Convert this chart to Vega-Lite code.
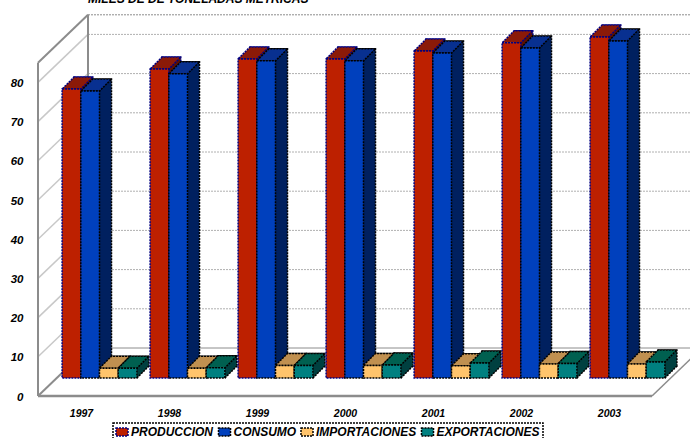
{"$schema":"https://vega.github.io/schema/vega-lite/v6.json","width":690,"height":438,"autosize":"none","padding":0,"background":"white",
"title":{"text":"MILES DE DE TONELADAS METRICAS","anchor":"start","frame":"group","dx":88,"dy":6,"offset":0,"font":"Liberation Sans","fontSize":12,"fontWeight":"bold","fontStyle":"italic","color":"#000000"},
"config":{"view":{"stroke":null},"font":"Liberation Sans","legend":{"strokeDash":[2,1],"strokeWidth":1.5,"strokeColor":"#000000"}},
"datasets":{"bars":[
{"year":"1997","series":"PRODUCCION","value":73.7},{"year":"1997","series":"CONSUMO","value":73.2},{"year":"1997","series":"IMPORTACIONES","value":2.5},{"year":"1997","series":"EXPORTACIONES","value":2.5},
{"year":"1998","series":"PRODUCCION","value":78.8},{"year":"1998","series":"CONSUMO","value":77.6},{"year":"1998","series":"IMPORTACIONES","value":2.5},{"year":"1998","series":"EXPORTACIONES","value":2.6},
{"year":"1999","series":"PRODUCCION","value":81.4},{"year":"1999","series":"CONSUMO","value":80.9},{"year":"1999","series":"IMPORTACIONES","value":3.2},{"year":"1999","series":"EXPORTACIONES","value":3.2},
{"year":"2000","series":"PRODUCCION","value":81.4},{"year":"2000","series":"CONSUMO","value":80.9},{"year":"2000","series":"IMPORTACIONES","value":3.2},{"year":"2000","series":"EXPORTACIONES","value":3.3},
{"year":"2001","series":"PRODUCCION","value":83.4},{"year":"2001","series":"CONSUMO","value":82.9},{"year":"2001","series":"IMPORTACIONES","value":3.1},{"year":"2001","series":"EXPORTACIONES","value":3.8},
{"year":"2002","series":"PRODUCCION","value":85.5},{"year":"2002","series":"CONSUMO","value":84.2},{"year":"2002","series":"IMPORTACIONES","value":3.6},{"year":"2002","series":"EXPORTACIONES","value":3.7},
{"year":"2003","series":"PRODUCCION","value":87.0},{"year":"2003","series":"CONSUMO","value":86.0},{"year":"2003","series":"IMPORTACIONES","value":3.6},{"year":"2003","series":"EXPORTACIONES","value":4.1}],
"grid":[{"tick":0},{"tick":10},{"tick":20},{"tick":30},{"tick":40},{"tick":50},{"tick":60},{"tick":70},{"tick":80}],
"frame":[{"tick":0},{"tick":85}]},
"resolve":{"scale":{"x":"independent","y":"independent","fill":"independent","stroke":"independent"},"axis":{"x":"independent","y":"independent"}},
"layer":[
{"data":{"name":"grid"},"transform":[{"filter":"datum.tick>0"}],"mark":{"type":"rule","color":"#b0b0b0","strokeWidth":1,"strokeDash":[2,1]},
 "encoding":{"x":{"datum":0,"type":"quantitative","scale":{"domain":[0,1],"range":[88,702]},"axis":null},"x2":{"datum":1},"y":{"field":"tick","type":"quantitative","scale":{"domain":[0,100],"range":[348,-44]},"axis":null}}},
{"data":{"name":"frame"},"transform":[{"filter":"datum.tick==85"}],"mark":{"type":"rule","color":"#8c8c8c","strokeWidth":1,"strokeDash":[2,1]},
 "encoding":{"x":{"datum":0,"type":"quantitative","scale":{"domain":[0,1],"range":[88,702]},"axis":null},"x2":{"datum":1},"y":{"field":"tick","type":"quantitative","scale":{"domain":[0,100],"range":[348,-44]},"axis":null}}},
{"data":{"name":"frame"},"transform":[{"filter":"datum.tick==0"}],"mark":{"type":"rule","color":"#8c8c8c","strokeWidth":1},
 "encoding":{"x":{"datum":0,"type":"quantitative","scale":{"domain":[0,1],"range":[88,702]},"axis":null},"x2":{"datum":1},"y":{"field":"tick","type":"quantitative","scale":{"domain":[0,100],"range":[348,-44]},"axis":null}}},
{"data":{"name":"grid"},"transform":[{"filter":"datum.tick>0"}],"mark":{"type":"point","filled":false,"stroke":"#c8c8c8","strokeWidth":1.5,"size":4,"opacity":1,"shape":"M0,0 L50,-48"},
 "encoding":{"x":{"datum":0,"type":"quantitative","scale":{"domain":[0,1],"range":[38,652]},"axis":null},"y":{"field":"tick","type":"quantitative","scale":{"domain":[0,100],"range":[396,4]},"axis":{"title":null,"orient":"left","offset":-23,"values":[0,10,20,30,40,50,60,70,80],"domain":false,"ticks":false,"grid":false,"labelPadding":0,"labelOffset":1,"labelFont":"Liberation Sans","labelFontSize":11.5,"labelFontWeight":"bold","labelFontStyle":"italic","labelColor":"#000000"}}}},
{"data":{"name":"frame"},"mark":{"type":"point","filled":false,"stroke":"#8c8c8c","strokeWidth":2,"size":4,"opacity":1,"shape":"M0,0 L50,-48"},
 "encoding":{"x":{"datum":0,"type":"quantitative","scale":{"domain":[0,1],"range":[38,652]},"axis":null},"y":{"field":"tick","type":"quantitative","scale":{"domain":[0,100],"range":[396,4]},"axis":null}}},
{"data":{"name":"frame"},"transform":[{"filter":"datum.tick==0"}],"mark":{"type":"point","filled":false,"stroke":"#8c8c8c","strokeWidth":1.5,"size":4,"opacity":1,"shape":"M0,0 L50,-48"},
 "encoding":{"x":{"datum":1,"type":"quantitative","scale":{"domain":[0,1],"range":[38,652]},"axis":null},"y":{"field":"tick","type":"quantitative","scale":{"domain":[0,100],"range":[396,4]},"axis":null}}},
{"data":{"values":[{"a":0,"b":85}]},"mark":{"type":"rule","color":"#8c8c8c","strokeWidth":2},
 "encoding":{"x":{"datum":0,"type":"quantitative","scale":{"domain":[0,1],"range":[38,652]},"axis":null},"y":{"field":"a","type":"quantitative","scale":{"domain":[0,100],"range":[396,4]},"axis":null},"y2":{"field":"b"}}},
{"data":{"values":[{"a":0,"b":85}]},"mark":{"type":"rule","color":"#8c8c8c","strokeWidth":2},
 "encoding":{"x":{"datum":0,"type":"quantitative","scale":{"domain":[0,1],"range":[88,702]},"axis":null},"y":{"field":"a","type":"quantitative","scale":{"domain":[0,100],"range":[348,-44]},"axis":null},"y2":{"field":"b"}}},
{"data":{"values":[{"a":0}]},"mark":{"type":"rule","color":"#8c8c8c","strokeWidth":2.5},
 "encoding":{"x":{"datum":0,"type":"quantitative","scale":{"domain":[0,1],"range":[38,652]},"axis":null},"x2":{"datum":1},"y":{"field":"a","type":"quantitative","scale":{"domain":[0,100],"range":[396,4]},"axis":null}}},

{"data":{"name":"bars"},"mark":{"type":"bar","strokeWidth":1.5,"strokeDash":[2,1]},
 "encoding":{"x":{"field":"year","type":"nominal","scale":{"type":"band","range":[67.5,683.5],"paddingInner":0.15,"paddingOuter":0.075},"axis":null},
  "xOffset":{"field":"series","type":"nominal","scale":{"domain":["PRODUCCION","CONSUMO","IMPORTACIONES","EXPORTACIONES"]}},
  "y":{"field":"value","type":"quantitative","stack":null,"scale":{"domain":[0,100],"range":[366,-26]},"axis":null},
  "fill":{"field":"series","type":"nominal","legend":null,"scale":{"domain":["PRODUCCION","CONSUMO","IMPORTACIONES","EXPORTACIONES"],"range":["#5e1000","#00205f","#806030","#004040"]}},
  "stroke":{"field":"series","type":"nominal","legend":null,"scale":{"domain":["PRODUCCION","CONSUMO","IMPORTACIONES","EXPORTACIONES"],"range":["#000080","#000000","#000000","#000000"]}}}},
{"data":{"name":"bars"},"mark":{"type":"point","filled":true,"size":4,"opacity":1,"shape":"M9.4,-18 L21.4,-30 L21.4,-31 L9.4,-31 Z","strokeWidth":0},
 "encoding":{"x":{"field":"year","type":"nominal","scale":{"type":"band","range":[55.5,671.5],"paddingInner":0.15,"paddingOuter":0.075},"axis":null},
  "xOffset":{"field":"series","type":"nominal","scale":{"domain":["PRODUCCION","CONSUMO","IMPORTACIONES","EXPORTACIONES"]}},
  "y":{"datum":0,"type":"quantitative","scale":{"domain":[0,100],"range":[396,4]},"axis":null},
  "fill":{"field":"series","type":"nominal","legend":null,"scale":{"domain":["PRODUCCION","CONSUMO","IMPORTACIONES","EXPORTACIONES"],"range":["#5e1000","#00205f","#806030","#004040"]}}}},
{"data":{"name":"bars"},"mark":{"type":"point","filled":false,"size":4,"opacity":1,"shape":"M9.4,-18 L21.4,-30","stroke":"#000000","strokeWidth":1.5,"strokeDash":[2,1]},
 "encoding":{"x":{"field":"year","type":"nominal","scale":{"type":"band","range":[55.5,671.5],"paddingInner":0.15,"paddingOuter":0.075},"axis":null},
  "xOffset":{"field":"series","type":"nominal","scale":{"domain":["PRODUCCION","CONSUMO","IMPORTACIONES","EXPORTACIONES"]}},
  "y":{"datum":0,"type":"quantitative","scale":{"domain":[0,100],"range":[396,4]},"axis":null}}},
{"data":{"name":"bars"},"mark":{"type":"point","filled":true,"size":4,"opacity":1,"shape":"M-9.4,-18 L9.4,-18 L21.4,-30 L2.6,-30 Z","strokeWidth":1.5,"strokeDash":[2,1]},
 "encoding":{"x":{"field":"year","type":"nominal","scale":{"type":"band","range":[55.5,671.5],"paddingInner":0.15,"paddingOuter":0.075},"axis":null},
  "xOffset":{"field":"series","type":"nominal","scale":{"domain":["PRODUCCION","CONSUMO","IMPORTACIONES","EXPORTACIONES"]}},
  "y":{"field":"value","type":"quantitative","scale":{"domain":[0,100],"range":[396,4]},"axis":null},
  "fill":{"field":"series","type":"nominal","legend":null,"scale":{"domain":["PRODUCCION","CONSUMO","IMPORTACIONES","EXPORTACIONES"],"range":["#8b1a08","#083090","#c09050","#006050"]}},
  "stroke":{"field":"series","type":"nominal","legend":null,"scale":{"domain":["PRODUCCION","CONSUMO","IMPORTACIONES","EXPORTACIONES"],"range":["#000080","#000000","#000000","#000000"]}}}},
{"data":{"name":"bars"},"mark":{"type":"bar","strokeWidth":1.5,"strokeDash":[2,1]},
 "encoding":{"x":{"field":"year","type":"nominal","scale":{"type":"band","range":[55.5,671.5],"paddingInner":0.15,"paddingOuter":0.075},"axis":{"title":null,"orient":"bottom","offset":-30,"domain":false,"ticks":false,"labelAngle":0,"labelOffset":-18,"labelPadding":0,"labelFont":"Liberation Sans","labelFontSize":10.5,"labelFontWeight":"bold","labelFontStyle":"italic","labelColor":"#000000"}},
  "xOffset":{"field":"series","type":"nominal","scale":{"domain":["PRODUCCION","CONSUMO","IMPORTACIONES","EXPORTACIONES"]}},
  "y":{"field":"value","type":"quantitative","stack":null,"scale":{"domain":[0,100],"range":[378,-14]},"axis":null},
  "fill":{"field":"series","type":"nominal","scale":{"domain":["PRODUCCION","CONSUMO","IMPORTACIONES","EXPORTACIONES"],"range":["#bd2000","#0040bd","#ffc46c","#008080"]},
   "legend":{"title":null,"orient":"none","legendX":113,"legendY":423,"direction":"horizontal","columns":4,"columnPadding":1.5,"padding":3,"labelOffset":3,"symbolType":"M-1.2,-0.8H1.2V0.8H-1.2Z","symbolSize":100,"symbolStrokeColor":"#000080","symbolStrokeWidth":1.5,"symbolDash":[2,1],"symbolOpacity":1,"labelFont":"Liberation Sans","labelFontSize":12,"labelFontWeight":"bold","labelFontStyle":"italic","labelColor":"#000000","labelLimit":200}},
  "stroke":{"field":"series","type":"nominal","legend":null,"scale":{"domain":["PRODUCCION","CONSUMO","IMPORTACIONES","EXPORTACIONES"],"range":["#000080","#000000","#000000","#000000"]}}}}
]}
